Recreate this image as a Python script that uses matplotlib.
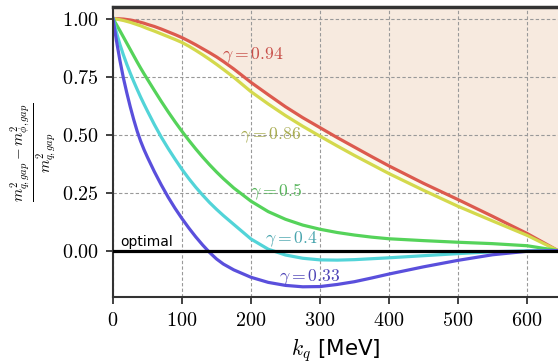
import numpy as np
import matplotlib
matplotlib.use("Agg")
import matplotlib.pyplot as plt
from matplotlib.ticker import FuncFormatter

plt.rcParams['mathtext.fontset'] = 'cm'
plt.rcParams['font.family'] = ['DejaVu Sans']

# k_q grid [MeV]
k = [0, 5, 10, 15, 20, 25, 30, 35, 40, 45, 50, 60, 70, 80, 90, 100, 110, 120, 130,
     140, 150, 160, 175, 200, 225, 250, 275, 300, 325, 350, 375, 400, 450, 500,
     550, 600, 645]

gamma_094 = [1.0, 1.0, 0.999, 0.998, 0.996, 0.994, 0.991, 0.988, 0.984, 0.98, 0.975,
             0.966, 0.955, 0.943, 0.931, 0.918, 0.903, 0.887, 0.87, 0.853, 0.835,
             0.815, 0.783, 0.725, 0.672, 0.62, 0.573, 0.53, 0.487, 0.446, 0.405,
             0.365, 0.29, 0.22, 0.148, 0.074, 0.0]
gamma_086 = [1.0, 0.998, 0.995, 0.992, 0.988, 0.984, 0.979, 0.974, 0.969, 0.963,
             0.957, 0.946, 0.934, 0.922, 0.91, 0.897, 0.881, 0.863, 0.844, 0.824,
             0.803, 0.781, 0.747, 0.685, 0.632, 0.582, 0.536, 0.493, 0.451, 0.41,
             0.371, 0.332, 0.26, 0.191, 0.128, 0.066, 0.0]
gamma_05 = [1.0, 0.974, 0.948, 0.921, 0.894, 0.867, 0.84, 0.813, 0.787, 0.762,
            0.738, 0.69, 0.643, 0.598, 0.555, 0.514, 0.475, 0.438, 0.403, 0.37,
            0.339, 0.31, 0.27, 0.213, 0.168, 0.135, 0.11, 0.092, 0.078, 0.067,
            0.058, 0.051, 0.043, 0.036, 0.03, 0.021, 0.0]
gamma_04 = [1.0, 0.94, 0.889, 0.844, 0.803, 0.765, 0.729, 0.695, 0.662, 0.631,
            0.601, 0.543, 0.489, 0.44, 0.394, 0.35, 0.31, 0.273, 0.239, 0.207,
            0.178, 0.151, 0.113, 0.05, 0.006, -0.019, -0.033, -0.04, -0.041, -0.039,
            -0.035, -0.031, -0.022, -0.013, -0.005, -0.001, 0.0]
gamma_033 = [1.0, 0.905, 0.82, 0.745, 0.68, 0.62, 0.565, 0.515, 0.472, 0.435,
             0.402, 0.34, 0.283, 0.23, 0.182, 0.138, 0.097, 0.059, 0.024, -0.008,
             -0.036, -0.058, -0.083, -0.115, -0.137, -0.15, -0.156, -0.155, -0.146,
             -0.134, -0.118, -0.101, -0.07, -0.042, -0.018, -0.003, 0.0]

series = [gamma_094, gamma_086, gamma_05, gamma_04, gamma_033]
labels = [r'$\gamma = 0.94$', r'$\gamma = 0.86$', r'$\gamma = 0.5$',
          r'$\gamma = 0.4$', r'$\gamma = 0.33$']
line_colors = ['#dc5a4e', '#d4d94c', '#55d35a', '#52d4d8', '#5a4fdc']
text_colors = ['#c8504a', '#a9ad52', '#58b55c', '#4aa5ae', '#5046b8']
label_pos = [(158, 0.842), (184, 0.497), (199, 0.253), (221, 0.047), (240, -0.114)]

xticks = [0, 100, 200, 300, 400, 500, 600]
yticks = [0.0, 0.25, 0.5, 0.75, 1.0]

fig = plt.figure(figsize=(5.58, 3.64), dpi=100)
ax = fig.add_axes([113/558, 1 - 297/364, 445/558, 290/364])

ymax = 1.05
ymin = -0.2
ax.fill_between(k, gamma_086, gamma_094, color='#fbfbee', lw=0, zorder=0.5)
ax.fill_between(k, gamma_094, ymax, color='#f7eadf', lw=0, zorder=0.5)

for s, c in zip(series, line_colors):
    ax.plot(k, s, color=c, lw=2.3, zorder=2, solid_joinstyle='round')

ax.axhline(0, color='black', lw=2.3, zorder=3)
ax.text(10.5, 0.019, 'optimal', fontsize=10, color='black', va='baseline', ha='left')

for lab, (x, y), c in zip(labels, label_pos, text_colors):
    ax.text(x, y, lab, color=c, fontsize=12.7, ha='left', va='center', zorder=4)

ax.set_xlim(0, 645)
ax.set_ylim(ymin, ymax)
ax.set_xticks(xticks)
ax.set_yticks(yticks)
ax.xaxis.set_major_formatter(FuncFormatter(lambda v, p: r'$%d$' % v))
ax.yaxis.set_major_formatter(FuncFormatter(lambda v, p: r'$%.2f$' % v))
ax.tick_params(axis='both', labelsize=14.5, direction='out', length=5, width=1.3,
               color='#333333', pad=5)
ax.tick_params(top=False, right=False)

ax.grid(True, ls=(0, (3, 2)), color='#999999', lw=0.8)
ax.set_axisbelow('line')

for side in ['left', 'bottom']:
    ax.spines[side].set_color('#333333')
    ax.spines[side].set_linewidth(1.5)
ax.spines['top'].set_color('#333333')
ax.spines['top'].set_linewidth(2.5)
ax.spines['right'].set_visible(False)

ax.set_xlabel(r'$k_q$ [MeV]', fontsize=15.5)
ax.xaxis.set_label_coords(0.5, -0.135)
ax.xaxis.label.set_va('top')
ax.set_ylabel(r'$\frac{m^2_{q,gap} - m^2_{\phi,gap}}{m^2_{q,gap}}$', fontsize=15.5)
ax.yaxis.set_label_coords(-0.178, 0.5)
ax.yaxis.label.set_va('center')

fig.savefig('out.png', dpi=100)
